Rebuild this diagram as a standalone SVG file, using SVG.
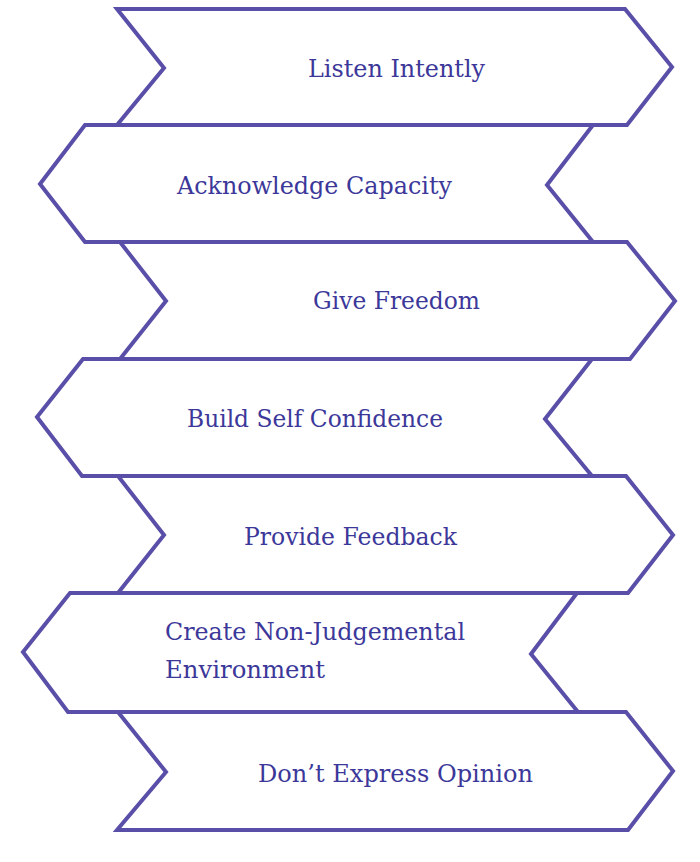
<svg xmlns="http://www.w3.org/2000/svg" width="700" height="862" viewBox="0 0 700 862">
<style>
.shape{fill:none;stroke:#5a4fa8;stroke-width:4;stroke-linejoin:miter}
.lbl{font-family:"DejaVu Serif","Liberation Serif",serif;font-size:25px;fill:#3c389a}
</style>
<rect width="700" height="862" fill="#ffffff"/>
<g id="node1">
<polygon class="shape" points="117,9 625,9 672,67 627,125 117,125 164,68"/>
<text class="lbl" x="308" y="77" textLength="177" lengthAdjust="spacingAndGlyphs">Listen Intently</text>
</g>
<g id="node2">
<polygon class="shape" points="85,125 593,125 547,185 593,242 85,242 40,184"/>
<text class="lbl" x="177" y="194" textLength="275" lengthAdjust="spacingAndGlyphs">Acknowledge Capacity</text>
</g>
<g id="node3">
<polygon class="shape" points="120,242 627,242 675,301 630,359 120,359 166,301"/>
<text class="lbl" x="313" y="309" textLength="167" lengthAdjust="spacingAndGlyphs">Give Freedom</text>
</g>
<g id="node4">
<polygon class="shape" points="83,359 592,359 545,419 592,476 82,476 37,417"/>
<text class="lbl" x="187" y="427" textLength="256" lengthAdjust="spacingAndGlyphs">Build Self Confidence</text>
</g>
<g id="node5">
<polygon class="shape" points="118,476 626,476 673,535 628,593 118,593 164,535"/>
<text class="lbl" x="244" y="545" textLength="213" lengthAdjust="spacingAndGlyphs">Provide Feedback</text>
</g>
<g id="node6">
<polygon class="shape" points="70,593 577,593 531,654 578,712 68,712 23,652"/>
<text class="lbl" x="165" y="640" textLength="300" lengthAdjust="spacingAndGlyphs">Create Non-Judgemental</text>
<text class="lbl" x="165" y="678" textLength="160" lengthAdjust="spacingAndGlyphs">Environment</text>
</g>
<g id="node7">
<polygon class="shape" points="118,712 626,712 673,771 628,830 117,830 166,772"/>
<text class="lbl" x="258" y="782" textLength="275" lengthAdjust="spacingAndGlyphs">Don’t Express Opinion</text>
</g>
<g id="connectors"></g>
</svg>
